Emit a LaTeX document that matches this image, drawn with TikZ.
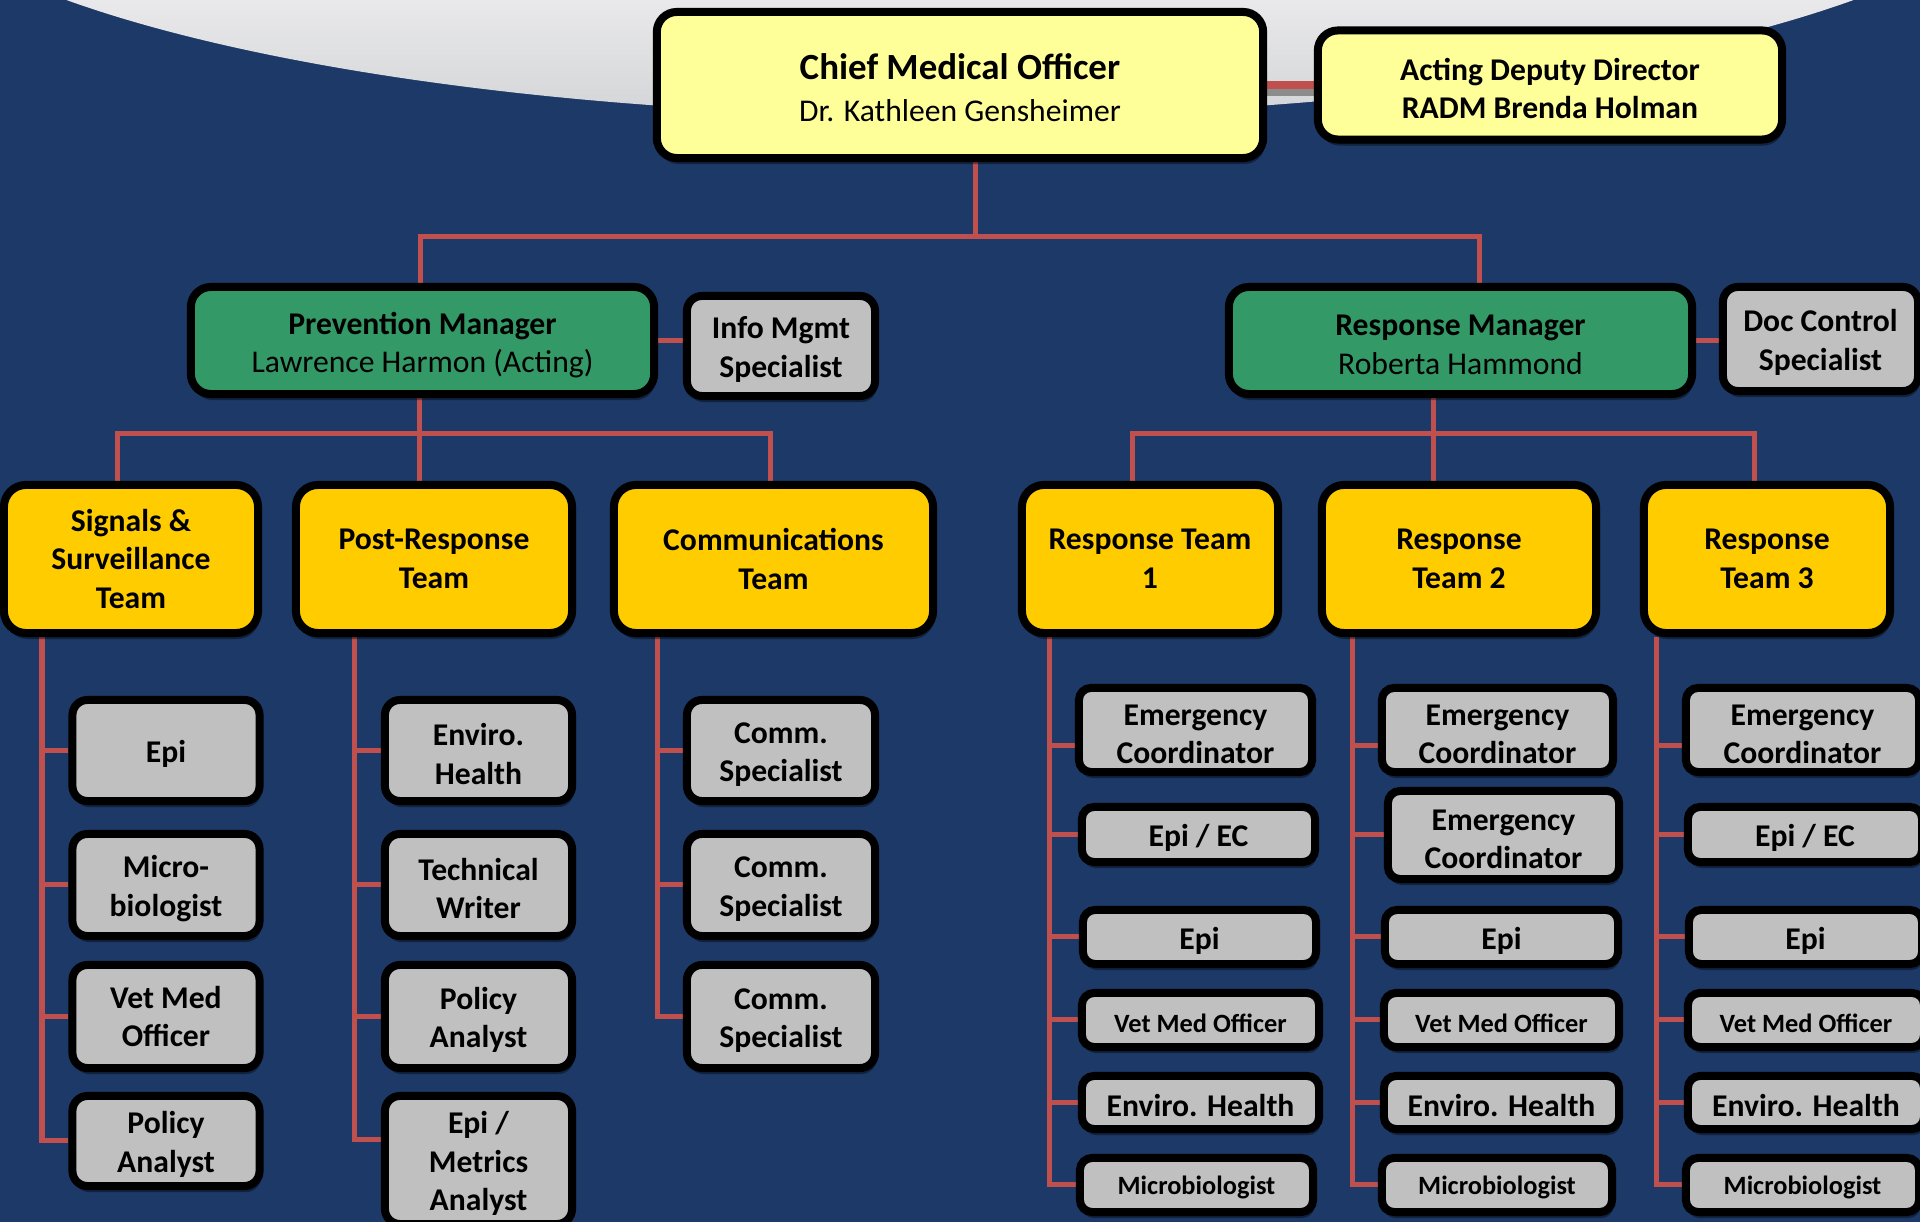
\documentclass[tikz,border=0pt]{standalone}
\usepackage{fontspec}
\setmainfont{Carlito}
\usepackage{tikz}
\usetikzlibrary{backgrounds,calc,shadows}

\definecolor{navy}{RGB}{28,57,104}
\definecolor{arcgraytop}{RGB}{233,233,235}
\definecolor{arcgraybot}{RGB}{211,212,215}
\definecolor{cmoyellow}{RGB}{255,255,153}
\definecolor{mgrgreen}{RGB}{51,153,102}
\definecolor{teamgold}{RGB}{255,204,0}
\definecolor{staffgray}{RGB}{192,192,192}
\definecolor{linkred}{RGB}{192,80,77}
\definecolor{linkshade}{RGB}{140,140,140}

\newcommand{\boxstrut}{\rule{0pt}{0.92em}}

\tikzset{
  box/.style={draw=black, line width=0.08cm, rounded corners=0.15cm, align=center, inner sep=0pt,
    font=\fontsize{9}{11}\selectfont\bfseries,
    execute at begin node={\boxstrut},
    drop shadow={shadow xshift=0.015cm, shadow yshift=-0.06cm, fill=black, opacity=0.4}},
  boxsize/.style 2 args={minimum width=#1cm, minimum height=#2cm},
  topbox/.style={box, fill=cmoyellow, rounded corners=0.2cm},
  mgrbox/.style={box, fill=mgrgreen, rounded corners=0.2cm},
  teambox/.style={box, fill=teamgold, rounded corners=0.22cm},
  staffbox/.style={box, fill=staffgray},
  rowbox/.style={staffbox, rounded corners=0.12cm},
  smalltext/.style={font=\fontsize{7.5}{9}\selectfont\bfseries},
  link/.style={draw=linkred, line width=0.05cm},
}

\begin{document}
\begin{tikzpicture}[x=0.01cm, y=-0.01cm]
\useasboundingbox (0,0) rectangle (1920,1222);

\begin{scope}[on background layer]
\fill[navy] (0,0) rectangle (1920,1222);
\begin{scope}
\clip (960,-150) ellipse [x radius=10.81cm, y radius=2.66cm];
\shade[top color=arcgraytop, bottom color=arcgraybot] (0,0) rectangle (1920,120);
\end{scope}
\end{scope}

\node[topbox, boxsize={6.06}{1.46}, font=\fontsize{9}{12}\selectfont\bfseries] (cmo) at (960,85) {{\fontsize{10.5}{12}\selectfont\rule{0pt}{9pt}Chief Medical Officer}\\\mdseries Dr. Kathleen Gensheimer};
\node[topbox, boxsize={4.64}{1.09}] (add) at (1550,85) {\boxstrut Acting Deputy Director\\RADM Brenda Holman};

\node[mgrbox, boxsize={4.63}{1.07}] (pm) at (422.5,340.5) {\rule{0pt}{9pt}Prevention Manager\\\mdseries Lawrence Harmon (Acting)};
\node[staffbox, boxsize={1.88}{1.00}] (info) at (781,346) {\boxstrut Info Mgmt\\Specialist};
\node[mgrbox, boxsize={4.63}{1.07}] (rm) at (1460.5,340.5) {\boxstrut Response Manager\\\mdseries Roberta Hammond};
\node[staffbox, boxsize={1.95}{1.04}] (doc) at (1820.5,339) {\boxstrut Doc Control\\Specialist};

\node[teambox, boxsize={2.54}{1.48}] (sig) at (131,559) {Signals \&\\Surveillance\\Team};
\node[teambox, boxsize={2.76}{1.48}] (prt) at (434,559) {Post-Response\\Team};
\node[teambox, boxsize={3.19}{1.48}] (comm) at (773.5,559) {Communications\\Team};
\node[teambox, boxsize={2.56}{1.48}] (rt1) at (1150,559) {Response Team\\1};
\node[teambox, boxsize={2.74}{1.48}] (rt2) at (1459,559) {Response\\Team 2};
\node[teambox, boxsize={2.46}{1.48}] (rt3) at (1767,559) {Response\\Team 3};

\node[staffbox, boxsize={1.87}{1.01}] (sepi) at (166,750.5) {Epi};
\node[staffbox, boxsize={1.87}{1.02}] (smicro) at (166,885) {\boxstrut Micro-\\biologist};
\node[staffbox, boxsize={1.87}{1.03}] (svet) at (166,1016.5) {Vet Med\\Officer};
\node[staffbox, boxsize={1.87}{0.90}] (spol) at (166,1141) {\boxstrut Policy\\Analyst};

\node[staffbox, boxsize={1.87}{1.01}] (penv) at (478.5,750.5) {\boxstrut Enviro.\\Health};
\node[staffbox, boxsize={1.87}{1.02}] (ptech) at (478.5,885) {\boxstrut Technical\\Writer};
\node[staffbox, boxsize={1.87}{1.03}] (ppol) at (478.5,1016.5) {\boxstrut Policy\\Analyst};
\node[staffbox, boxsize={1.87}{1.28}] (pepi) at (478.5,1160) {\boxstrut Epi /\\Metrics\\Analyst};

\node[staffbox, boxsize={1.88}{1.01}] (cspec1) at (781,750.5) {\boxstrut Comm.\\Specialist};
\node[staffbox, boxsize={1.88}{1.02}] (cspec2) at (781,885) {\boxstrut Comm.\\Specialist};
\node[staffbox, boxsize={1.88}{1.03}] (cspec3) at (781,1016.5) {\boxstrut Comm.\\Specialist};

\node[rowbox, boxsize={2.33}{0.84}] (ec1) at (1195.5,730) {\boxstrut Emergency\\Coordinator};
\node[rowbox, boxsize={2.33}{0.55}] (epiec1) at (1198.5,834.5) {Epi / EC};
\node[rowbox, boxsize={2.33}{0.54}] (epi1) at (1199.5,937) {Epi};
\node[rowbox, boxsize={2.37}{0.54}, smalltext] (vet1) at (1200.5,1020) {Vet Med Officer};
\node[rowbox, boxsize={2.37}{0.53}] (env1) at (1200.5,1102.5) {Enviro. Health};
\node[rowbox, boxsize={2.33}{0.54}, smalltext] (mb1) at (1196.5,1185) {Microbiologist};

\node[rowbox, boxsize={2.31}{0.84}] (ec2) at (1497.5,730) {\boxstrut Emergency\\Coordinator};
\node[rowbox, boxsize={2.31}{0.88}] (ecb2) at (1503.5,835) {\boxstrut Emergency\\Coordinator};
\node[rowbox, boxsize={2.33}{0.54}] (epi2) at (1501.5,937) {Epi};
\node[rowbox, boxsize={2.35}{0.54}, smalltext] (vet2) at (1501.5,1020) {Vet Med Officer};
\node[rowbox, boxsize={2.35}{0.53}] (env2) at (1501.5,1102.5) {Enviro. Health};
\node[rowbox, boxsize={2.30}{0.54}, smalltext] (mb2) at (1497,1185) {Microbiologist};

\node[rowbox, boxsize={2.33}{0.84}] (ec3) at (1802.5,730) {\boxstrut Emergency\\Coordinator};
\node[rowbox, boxsize={2.34}{0.55}] (epiec3) at (1805,834.5) {Epi / EC};
\node[rowbox, boxsize={2.33}{0.54}] (epi3) at (1805.5,937) {Epi};
\node[rowbox, boxsize={2.36}{0.54}, smalltext] (vet3) at (1806,1020) {Vet Med Officer};
\node[rowbox, boxsize={2.36}{0.53}] (env3) at (1806,1102.5) {Enviro. Health};
\node[rowbox, boxsize={2.33}{0.54}, smalltext] (mb3) at (1802.5,1185) {Microbiologist};

\begin{scope}[on background layer]
\draw[linkshade, line width=0.07cm] ([yshift=-0.075cm]cmo.east) -- ([yshift=-0.075cm]add.west);
\draw[link, line width=0.08cm] (cmo.east) -- (add.west);

\coordinate (j0) at (975,237);
\draw[link] (cmo.south -| j0) -- (j0);
\draw[link] ([xshift=-0.025cm]pm.north) |- (j0) -| ([xshift=0.185cm]rm.north);
\draw[link] (pm.east) -- (pm.east -| info.west);
\draw[link] (rm.east) -- (rm.east -| doc.west);

\coordinate (j1) at (419,434);
\draw[link] (pm.south -| j1) -- (j1);
\draw[link] ([xshift=-0.13cm]sig.north) |- (j1) -| ([xshift=-0.035cm]comm.north);
\draw[link] (j1) -- (j1 |- prt.north);

\coordinate (j2) at (1433,434);
\draw[link] (rm.south -| j2) -- (j2);
\draw[link] ([xshift=-0.17cm]rt1.north) |- (j2) -| ([xshift=-0.13cm]rt3.north);
\draw[link] (j2) -- (j2 |- rt2.north);

\coordinate (sp1) at (42,637);
\coordinate (sp2) at (354,637);
\coordinate (sp3) at (657,637);
\coordinate (sp4) at (1049,637);
\coordinate (sp5) at (1352,637);
\coordinate (sp6) at (1656,637);

\draw[link] (sig.south -| sp1) |- (spol.west);
\draw[link] (sp1 |- sepi.west) -- (sepi.west);
\draw[link] (sp1 |- smicro.west) -- (smicro.west);
\draw[link] (sp1 |- svet.west) -- (svet.west);

\draw[link] (prt.south -| sp2) |- ([yshift=0.2cm]pepi.west);
\draw[link] (sp2 |- penv.west) -- (penv.west);
\draw[link] (sp2 |- ptech.west) -- (ptech.west);
\draw[link] (sp2 |- ppol.west) -- (ppol.west);

\draw[link] (comm.south -| sp3) |- (cspec3.west);
\draw[link] (sp3 |- cspec1.west) -- (cspec1.west);
\draw[link] (sp3 |- cspec2.west) -- (cspec2.west);

\draw[link] (rt1.south -| sp4) |- (mb1.west);
\draw[link] ([yshift=-0.15cm]sp4 |- ec1.west) -- ([yshift=-0.15cm]ec1.west);
\draw[link] (sp4 |- epiec1.west) -- (epiec1.west);
\draw[link] (sp4 |- epi1.west) -- (epi1.west);
\draw[link] (sp4 |- vet1.west) -- (vet1.west);
\draw[link] (sp4 |- env1.west) -- (env1.west);

\draw[link] (rt2.south -| sp5) |- (mb2.west);
\draw[link] ([yshift=-0.15cm]sp5 |- ec2.west) -- ([yshift=-0.15cm]ec2.west);
\draw[link] (sp5 |- ecb2.west) -- (ecb2.west);
\draw[link] (sp5 |- epi2.west) -- (epi2.west);
\draw[link] (sp5 |- vet2.west) -- (vet2.west);
\draw[link] (sp5 |- env2.west) -- (env2.west);

\draw[link] (rt3.south -| sp6) |- (mb3.west);
\draw[link] ([yshift=-0.15cm]sp6 |- ec3.west) -- ([yshift=-0.15cm]ec3.west);
\draw[link] (sp6 |- epiec3.west) -- (epiec3.west);
\draw[link] (sp6 |- epi3.west) -- (epi3.west);
\draw[link] (sp6 |- vet3.west) -- (vet3.west);
\draw[link] (sp6 |- env3.west) -- (env3.west);
\end{scope}
\end{tikzpicture}
\end{document}
